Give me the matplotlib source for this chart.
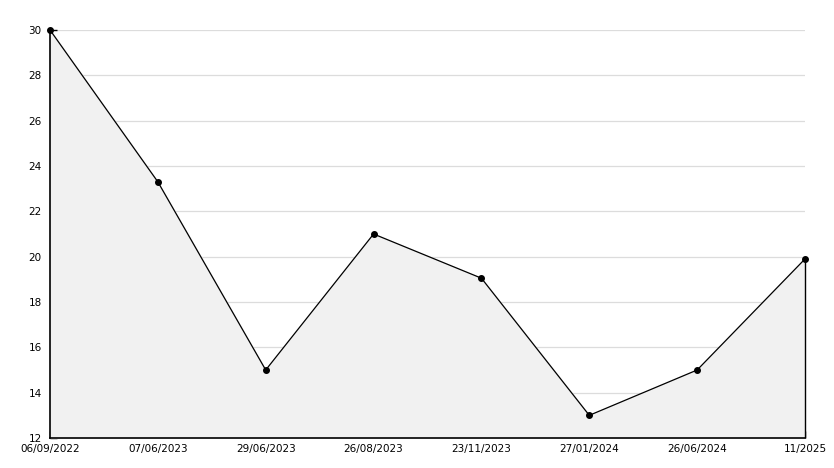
import matplotlib.pyplot as plt
from matplotlib.ticker import MultipleLocator

dates = ["06/09/2022", "07/06/2023", "29/06/2023", "26/08/2023",
         "23/11/2023", "27/01/2024", "26/06/2024", "11/2025"]
values = [30, 23.3, 15, 21, 19.05, 13, 15, 19.9]

x = list(range(len(dates)))

fig = plt.figure(figsize=(8.34, 4.68), dpi=100)
ax = fig.add_axes([50 / 834, 30 / 468, 755 / 834, 408 / 468])

ax.fill_between(x, values, 12, color='#f1f1f1', zorder=1)
ax.plot(x, values, color='black', linewidth=0.9, marker='o', markersize=4,
        zorder=3, clip_on=False)
ax.vlines(x[-1], 12, values[-1], color='black', linewidth=1.0, zorder=3, clip_on=False)

ax.set_xlim(0, len(dates) - 1)
ax.set_ylim(12, 30)
ax.set_xticks(x)
ax.set_xticklabels(dates)
ax.yaxis.set_major_locator(MultipleLocator(2))
ax.yaxis.set_minor_locator(MultipleLocator(1))

ax.grid(axis='y', color='#dcdcdc', linewidth=0.9, zorder=0)
ax.set_axisbelow(True)

for side in ['top', 'right']:
    ax.spines[side].set_visible(False)
for side in ['left', 'bottom']:
    ax.spines[side].set_linewidth(1.2)

ax.tick_params(axis='both', direction='in', labelsize=7.5, length=5, width=1)
ax.tick_params(axis='y', which='minor', direction='in', length=4, width=1)
ax.tick_params(axis='x', pad=4)
ax.tick_params(axis='y', pad=6)

fig.savefig('out.png', dpi=100)
